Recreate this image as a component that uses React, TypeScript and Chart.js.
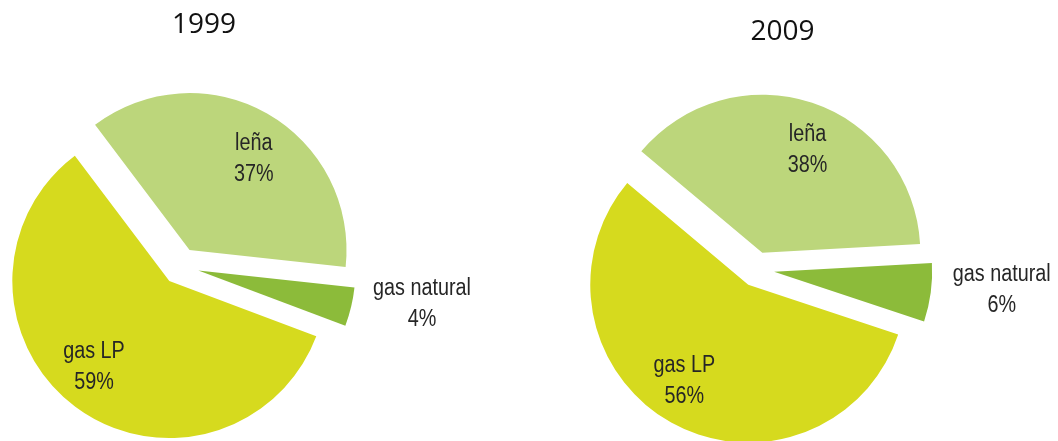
import React, { useEffect, useRef } from "react";
import { Chart, registerables } from "chart.js";

Chart.register(...registerables);

// ---- data ----
const categories = ["leña", "gas natural", "gas LP"];
const values1999 = [37, 4, 59];
const values2009 = [38, 6, 56];
const titles = ["1999", "2009"];
const sliceColors = ["#bcd67b", "#8cbb3a", "#d6da1e"];

const LABEL_FONT = "'Liberation Sans', Arial, sans-serif";

// pushes each slice outward along its mid angle (without changing its radius)
const explodePlugin = {
  id: "explode",
  afterDatasetsUpdate(chart: any, _args: any, opts: any) {
    const meta = chart.getDatasetMeta(0);
    meta.data.forEach((arc: any) => {
      const mid = (arc.startAngle + arc.endAngle) / 2;
      arc.x += Math.cos(mid) * opts.distance;
      arc.y += Math.sin(mid) * opts.distance;
    });
  },
};

// two-line labels: category + percentage
const labelPlugin = {
  id: "sliceLabels",
  afterDatasetsDraw(chart: any, _args: any, opts: any) {
    const ctx = chart.ctx as CanvasRenderingContext2D;
    const meta = chart.getDatasetMeta(0);
    const data = chart.data.datasets[0].data as number[];
    const labels = chart.data.labels as string[];
    const sx = opts.condense;
    ctx.save();
    ctx.font = `${opts.size}px ${opts.family}`;
    ctx.fillStyle = opts.color;
    ctx.textAlign = "center";
    ctx.textBaseline = "alphabetic";
    meta.data.forEach((arc: any, i: number) => {
      const lines = [labels[i], `${data[i]}%`];
      const mid = (arc.startAngle + arc.endAngle) / 2;
      const R = arc.outerRadius;
      let cx: number;
      let cy: number;
      if (data[i] < opts.outsideBelow) {
        const ax = arc.x + Math.cos(mid) * R;
        const ay = arc.y + Math.sin(mid) * R;
        const w = Math.max(...lines.map((l) => ctx.measureText(l).width)) * sx;
        cx = ax + opts.outsideGap + w / 2;
        cy = ay + opts.outsideDy;
      } else {
        const a = mid + (opts.angleShift * Math.PI) / 180;
        cx = arc.x + Math.cos(a) * R * opts.insideFactor;
        cy = arc.y + Math.sin(a) * R * opts.insideFactor;
      }
      lines.forEach((line, j) => {
        ctx.save();
        ctx.translate(cx, cy + (j - 0.5) * opts.lineHeight + opts.capHalf);
        ctx.scale(sx, 1);
        ctx.fillText(line, 0, 0);
        ctx.restore();
      });
    });
    ctx.restore();
  },
};

type PieProps = {
  values: number[];
  left: number;
  rotation: number;
  radius: number;
  explode: number;
  padding: { left: number; right: number; top: number; bottom: number };
};

const CANVAS_W = 529;
const CANVAS_H = 441;

function PieChart({ values, left, rotation, radius, explode, padding }: PieProps) {
  const ref = useRef<HTMLCanvasElement | null>(null);
  useEffect(() => {
    if (!ref.current) return;
    const chart = new Chart(ref.current, {
      type: "pie",
      data: {
        labels: categories,
        datasets: [
          {
            data: values,
            backgroundColor: sliceColors,
            borderWidth: 0,
            clip: false as any,
          },
        ],
      },
      options: {
        responsive: false,
        animation: false,
        events: [],
        rotation,
        radius,
        layout: { padding },
        plugins: {
          legend: { display: false },
          tooltip: { enabled: false },
          title: { display: false },
          explode: { distance: explode },
          sliceLabels: {
            size: 23,
            family: LABEL_FONT,
            color: "#262626",
            condense: 0.86,
            lineHeight: 31,
            capHalf: 8.5,
            insideFactor: 0.72,
            angleShift: 5,
            outsideBelow: 10,
            outsideGap: 22,
            outsideDy: -5,
          },
        } as any,
      },
      plugins: [explodePlugin, labelPlugin],
    });
    return () => chart.destroy();
  }, []);
  return (
    <canvas
      ref={ref}
      width={CANVAS_W}
      height={CANVAS_H}
      style={{ position: "absolute", left, top: 0, width: CANVAS_W, height: CANVAS_H, display: "block" }}
    />
  );
}

const titleStyle = (centerX: number, top: number): React.CSSProperties => ({
  position: "absolute",
  left: centerX - 100,
  top,
  width: 200,
  textAlign: "center",
  fontFamily: "'Open Sans', 'Noto Sans', sans-serif",
  fontSize: 28,
  lineHeight: "28px",
  color: "#111111",
  whiteSpace: "nowrap",
});

export default function App() {
  return (
    <div
      style={{
        position: "absolute",
        left: 0,
        top: 0,
        width: 1058,
        height: 441,
        background: "#ffffff",
        overflow: "hidden",
      }}
    >
      <PieChart
        values={values1999}
        left={0}
        rotation={-37}
        radius={157}
        explode={18.5}
        padding={{ left: 0, right: 168.2, top: 91.4, bottom: 0 }}
      />
      <PieChart
        values={values2009}
        left={529}
        rotation={-50}
        radius={158}
        explode={17.5}
        padding={{ left: 0, right: 73.4, top: 97.8, bottom: 0 }}
      />
      <div style={titleStyle(204, 8)}>{titles[0]}</div>
      <div style={titleStyle(782.5, 15)}>{titles[1]}</div>
    </div>
  );
}
